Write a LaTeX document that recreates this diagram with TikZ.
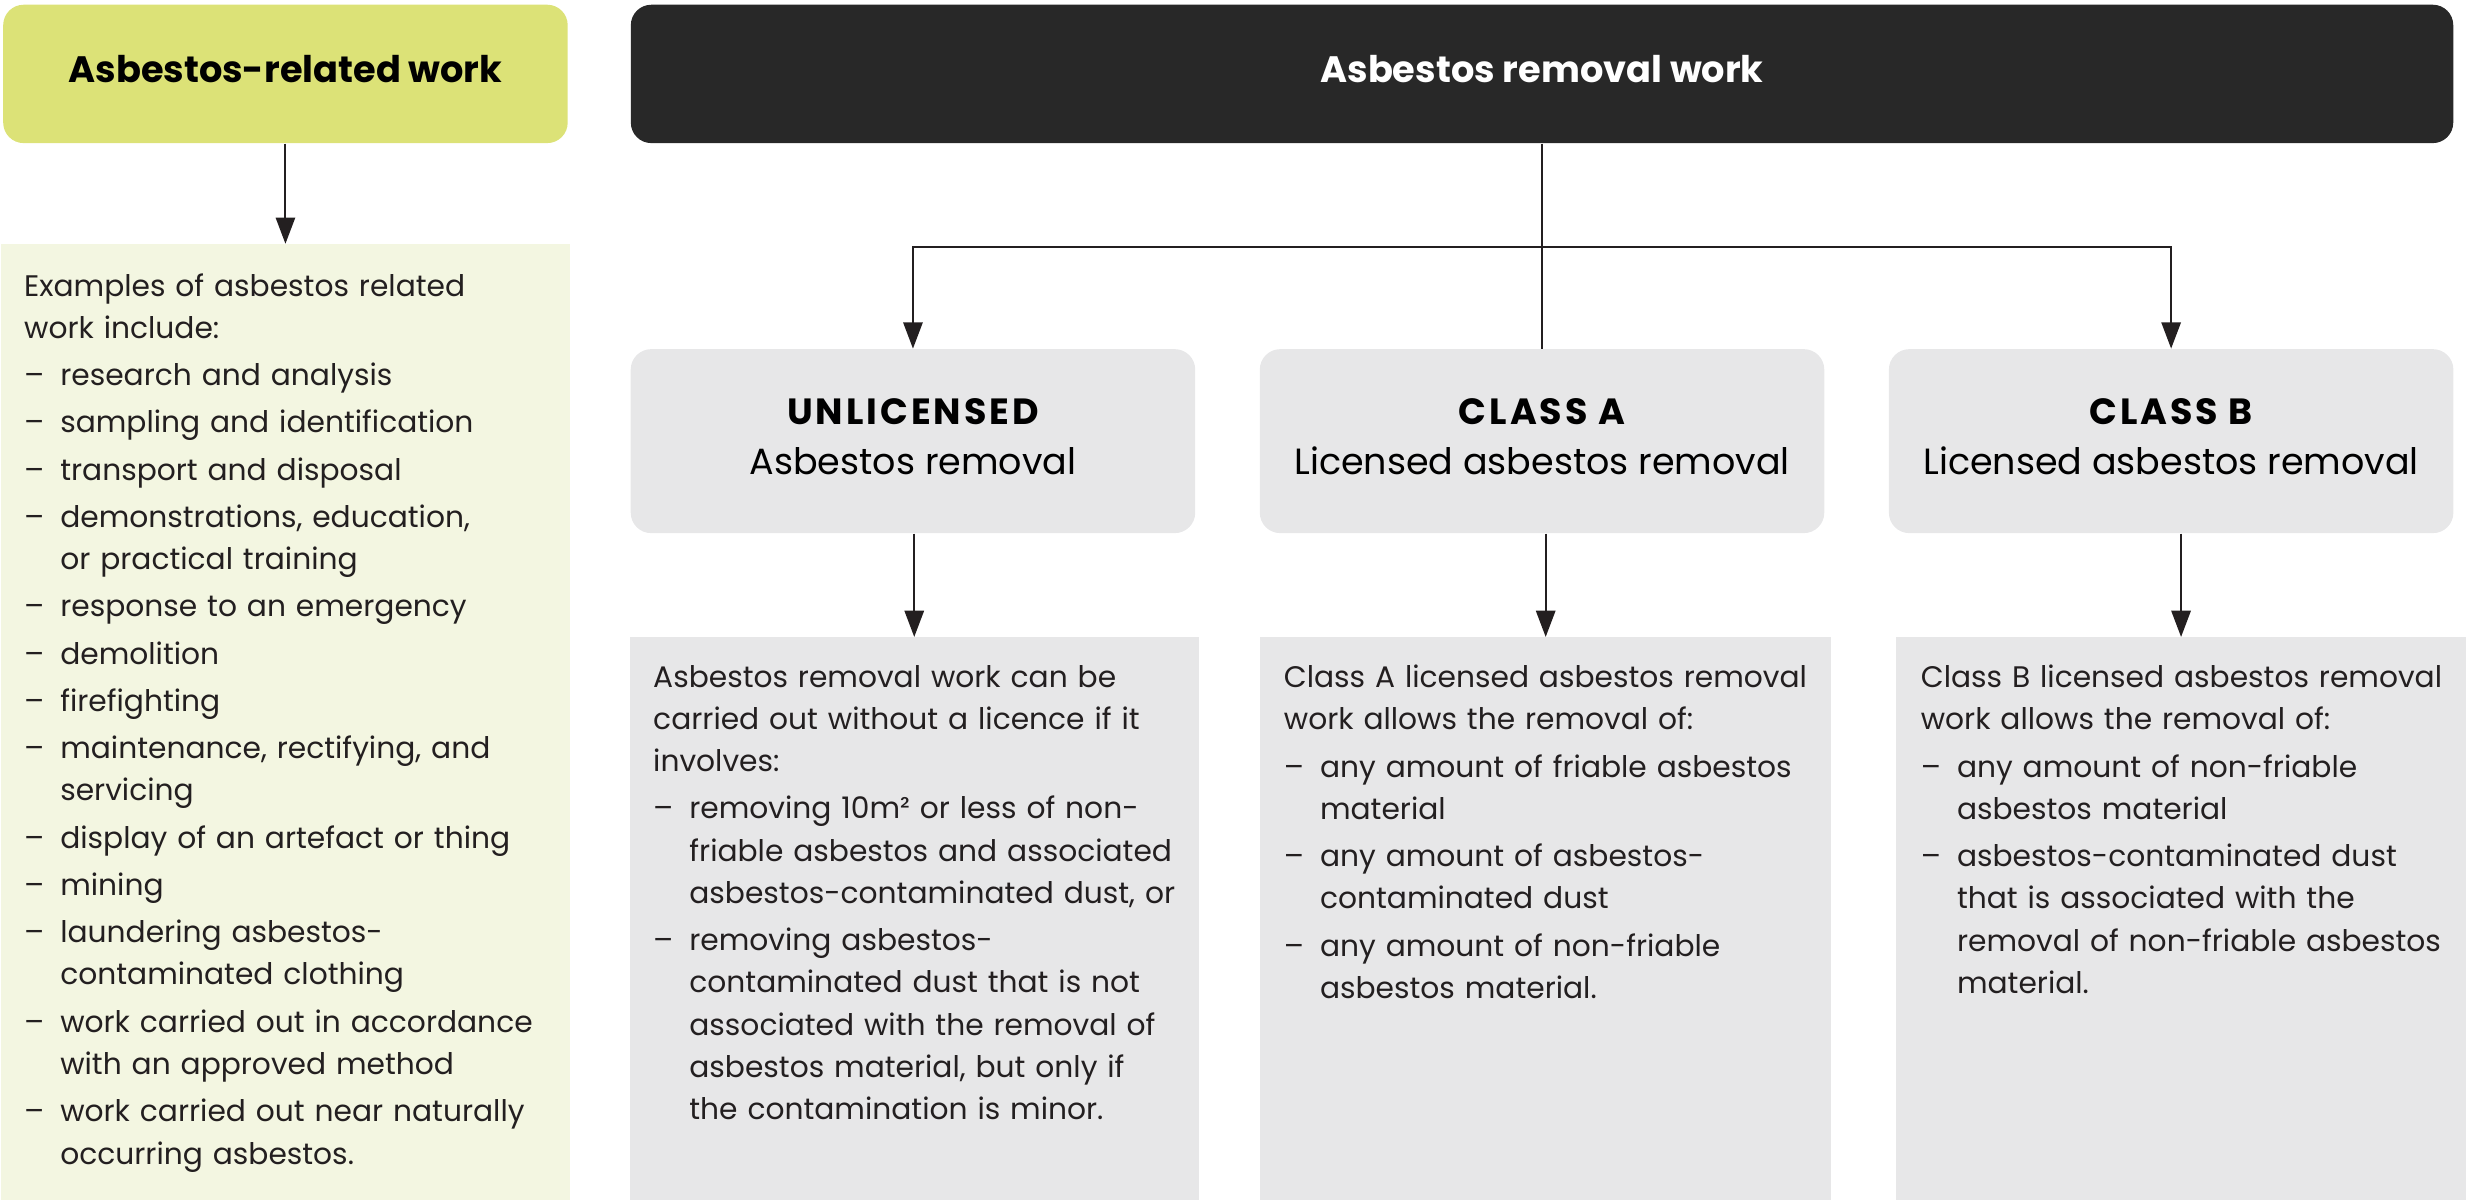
\documentclass[tikz,border=0pt]{standalone}
\usepackage{fontspec}
\setmainfont{Poppins}
\usetikzlibrary{arrows.meta}
\definecolor{headgreen}{HTML}{DCE277}
\definecolor{palegreen}{HTML}{F3F6E1}
\definecolor{headblack}{HTML}{282828}
\definecolor{lightgrey}{HTML}{E7E7E8}
\definecolor{ink}{HTML}{231F20}
\newcommand{\dashitem}[1]{\par\vskip 1.8pt\hangindent=0.46cm\hangafter=1\noindent\makebox[0.46cm][l]{–}#1\par}
\newcommand{\classtitle}[1]{{\bfseries\addfontfeature{LetterSpace=8}#1}}
\begin{document}
\begin{tikzpicture}[x=0.02cm,y=-0.02cm,
  head/.style={rounded corners=0.26cm, minimum height=1.76cm, text depth=0.12cm, font=\fontsize{13.3}{16}\selectfont\bfseries},
  classbox/.style={fill=lightgrey, rounded corners=0.26cm, minimum width=7.18cm, minimum height=2.34cm, align=center, text depth=0.12cm, font=\fontsize{13.2}{18}\selectfont},
  panel/.style={anchor=north west, minimum height=7.16cm, inner sep=0},
  body/.style={anchor=north west, inner sep=0, text width=6.95cm, align=left, text=ink, font=\fontsize{10.75}{15.3}\selectfont},
  arr/.style={draw=ink, line width=0.7pt, -{Triangle[length=9.5pt,width=7pt]}},
  link/.style={draw=ink, line width=0.7pt}]
\useasboundingbox (0,0) rectangle (1568,763);

\node[head, fill=headgreen, minimum width=7.18cm] (arw) at (181.5,47) {Asbestos-related work};
\node[head, fill=headblack, text=white, minimum width=23.18cm] (rmw) at (980.5,47) {Asbestos removal work};

\node[classbox] (unl) at (580.5,280.5) {\classtitle{UNLICENSED}\\Asbestos removal};
\node[classbox] (cla) at (980.5,280.5) {\classtitle{CLASS A}\\Licensed asbestos removal};
\node[classbox] (clb) at (1380.5,280.5) {\classtitle{CLASS B}\\Licensed asbestos removal};

\node[panel, fill=palegreen, minimum width=7.24cm, minimum height=12.16cm] (arwp) at (0,155) {};
\node[panel, fill=lightgrey, minimum width=7.24cm] (unlp) at (400,405) {};
\node[panel, fill=lightgrey, minimum width=7.26cm] (clap) at (801,405) {};
\node[panel, fill=lightgrey, minimum width=7.26cm] (clbp) at (1205,405) {};

\node[body] (arwt) at ([shift={(15,18.5)}]arwp.north west) {Examples of asbestos related\newline work include:
  \dashitem{research and analysis}
  \dashitem{sampling and identification}
  \dashitem{transport and disposal}
  \dashitem{demonstrations, education,\newline or practical training}
  \dashitem{response to an emergency}
  \dashitem{demolition}
  \dashitem{firefighting}
  \dashitem{maintenance, rectifying, and\newline servicing}
  \dashitem{display of an artefact or thing}
  \dashitem{mining}
  \dashitem{laundering asbestos-\newline contaminated clothing}
  \dashitem{work carried out in accordance\newline with an approved method}
  \dashitem{work carried out near naturally\newline occurring asbestos.}};
\node[body] (unlt) at ([shift={(15,17.5)}]unlp.north west) {Asbestos removal work can be\newline carried out without a licence if it\newline involves:
  \dashitem{removing 10m² or less of non-\newline friable asbestos and associated\newline asbestos-contaminated dust, or}
  \dashitem{removing asbestos-\newline contaminated dust that is not\newline associated with the removal of\newline asbestos material, but only if\newline the contamination is minor.}};
\node[body] (clat) at ([shift={(15,17.5)}]clap.north west) {Class A licensed asbestos removal\newline work allows the removal of:
  \dashitem{any amount of friable asbestos\newline material}
  \dashitem{any amount of asbestos-\newline contaminated dust}
  \dashitem{any amount of non-friable\newline asbestos material.}};
\node[body] (clbt) at ([shift={(16,17.5)}]clbp.north west) {Class B licensed asbestos removal\newline work allows the removal of:
  \dashitem{any amount of non-friable\newline asbestos material}
  \dashitem{asbestos-contaminated dust\newline that is associated with the\newline removal of non-friable asbestos\newline material.}};

\coordinate (fork) at (980.5,157);
\draw[arr] (arw.south) -- (arw.south |- arwp.north);
\draw[link] (rmw) -- (cla);
\draw[arr] (fork) -| (unl.north);
\draw[arr] (fork) -| (clb.north);
\draw[arr] (unl.south -| unlp.north) -- (unlp.north);
\draw[arr] (cla.south -| clap.north) -- (clap.north);
\draw[arr] (clb.south -| clbp.north) -- (clbp.north);
\end{tikzpicture}
\end{document}
